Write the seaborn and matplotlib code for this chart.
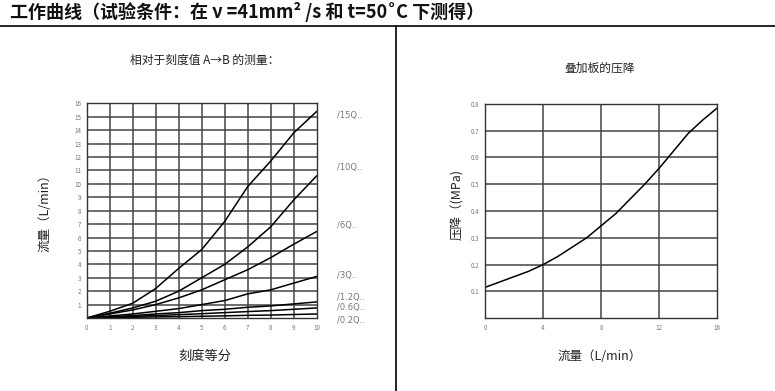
import numpy as np
import pandas as pd
import seaborn as sns
import matplotlib.pyplot as plt
from matplotlib.lines import Line2D

sns.set_theme(style="white")
plt.rcParams['font.family'] = ['Noto Sans CJK SC', 'DejaVu Sans']
plt.rcParams['axes.unicode_minus'] = False

# left chart: flow vs scale divisions
scale = [0, 1, 2, 3, 4, 5, 6, 7, 8, 9, 10]
q15 = [0, 0.5, 1.1, 2.2, 3.7, 5.1, 7.2, 9.8, 11.7, 13.8, 15.4]
q10 = [0, 0.35, 0.75, 1.25, 2.0, 3.0, 4.0, 5.3, 6.8, 8.8, 10.6]
q6 = [0, 0.3, 0.6, 1.0, 1.5, 2.1, 2.85, 3.6, 4.5, 5.5, 6.45]
q3 = [0, 0.15, 0.3, 0.5, 0.7, 1.0, 1.3, 1.8, 2.1, 2.6, 3.1]
q1_2 = [0, 0.08, 0.18, 0.3, 0.4, 0.55, 0.65, 0.8, 0.9, 1.05, 1.2]
q0_6 = [0, 0.05, 0.12, 0.18, 0.25, 0.32, 0.4, 0.48, 0.55, 0.65, 0.75]
q0_2 = [0, 0.02, 0.05, 0.08, 0.1, 0.13, 0.16, 0.2, 0.22, 0.26, 0.3]
curve_names = ["/15Q..", "/10Q..", "/6Q..", "/3Q..", "/1.2Q..", "/0.6Q..", "/0.2Q.."]
label_y = [15.1, 11.2, 6.9, 3.2, 1.5, 0.75, -0.15]

# right chart: pressure drop vs flow
flow = [0, 1, 2, 3, 4, 5, 6, 7, 8, 9, 10, 11, 12, 13, 14, 15, 16]
dp = [0.115, 0.135, 0.155, 0.175, 0.2, 0.23, 0.265, 0.3, 0.345, 0.39,
      0.445, 0.5, 0.56, 0.625, 0.69, 0.74, 0.785]

left_df = pd.DataFrame({
    "x": scale * 7,
    "y": q15 + q10 + q6 + q3 + q1_2 + q0_6 + q0_2,
    "curve": np.repeat(curve_names, len(scale)),
})
right_df = pd.DataFrame({"flow": flow, "dp": dp})

fig = plt.figure(figsize=(7.75, 3.91), dpi=100)
ax1 = fig.add_axes([0.1119, 0.1867, 0.2968, 0.549])
ax2 = fig.add_axes([0.6258, 0.1862, 0.2997, 0.548])

grid_kw = dict(color="#444444", lw=1.1, zorder=0)
tick_kw = dict(labelsize=4.5, labelcolor="#777777", length=0, pad=4)

sns.lineplot(data=left_df, x="x", y="y", units="curve", estimator=None,
             color="black", lw=1.1, ax=ax1)
ax1.set_xlim(0, 10)
ax1.set_ylim(0, 16)
ax1.set_xticks(range(0, 11))
ax1.set_yticks(range(1, 17))
for v in range(1, 16):
    ax1.axhline(v, **grid_kw)
for v in range(1, 10):
    ax1.axvline(v, **grid_kw)
ax1.tick_params(**tick_kw)
ax1.set_xlabel("")
ax1.set_ylabel("")
for name, yy in zip(curve_names, label_y):
    ax1.text(10.9, yy, name, fontsize=6, color="#777777", va="center",
             family=["DejaVu Sans"], clip_on=False)

sns.lineplot(data=right_df, x="flow", y="dp", color="black", lw=1.1, ax=ax2)
ax2.set_xlim(0, 16)
ax2.set_ylim(0, 0.8)
ax2.set_xticks([0, 4, 8, 12, 16])
ax2.set_yticks([0.1, 0.2, 0.3, 0.4, 0.5, 0.6, 0.7, 0.8])
for v in [0.1, 0.2, 0.3, 0.4, 0.5, 0.6, 0.7]:
    ax2.axhline(v, **grid_kw)
for v in [4, 8, 12]:
    ax2.axvline(v, **grid_kw)
ax2.tick_params(**tick_kw)
ax2.set_xlabel("")
ax2.set_ylabel("")

for ax in (ax1, ax2):
    for s in ax.spines.values():
        s.set_color("#333333")
        s.set_linewidth(1.0)

# texts
fig.text(10 / 775, 1 - 12 / 391, "工作曲线（试验条件：在 ν =41mm² /s 和 t=50˚C 下测得）",
         fontsize=13, fontweight="bold", va="center", ha="left", color="#111111")
fig.text(205 / 775, 1 - 60 / 391, "相对于刻度值 A→B 的测量：", fontsize=8.5,
         ha="center", va="center", color="#222222")
fig.text(600 / 775, 1 - 68 / 391, "叠加板的压降", fontsize=8.5,
         ha="center", va="center", color="#222222")
fig.text(205 / 775, 1 - 356 / 391, "刻度等分", fontsize=9.5,
         ha="center", va="center", color="#222222")
fig.text(600 / 775, 1 - 356 / 391, "流量（L/min）", fontsize=9,
         ha="center", va="center", color="#222222")
fig.text(45 / 775, 1 - 210 / 391, "流量（L/min）", fontsize=9, rotation=90,
         ha="center", va="center", color="#222222")
fig.text(458 / 775, 1 - 205 / 391, "压降（(MPa)", fontsize=9, rotation=90,
         ha="center", va="center", color="#222222")

# frame lines
fig.add_artist(Line2D([0, 1], [1 - 26 / 391] * 2, color="black", lw=1.2,
                      transform=fig.transFigure))
fig.add_artist(Line2D([396 / 775] * 2, [0, 1 - 26 / 391], color="black", lw=1.2,
                      transform=fig.transFigure))

fig.savefig("out.png", dpi=100)
